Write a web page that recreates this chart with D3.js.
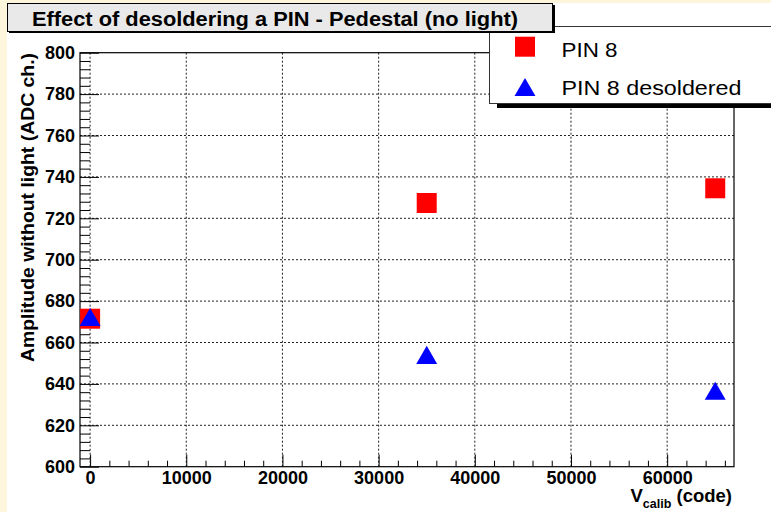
<!DOCTYPE html>
<html>
<head>
<meta charset="utf-8">
<script src="https://cdn.jsdelivr.net/npm/d3@7"></script>
<style>
  body { margin: 0; background: #fdf6dc; }
  svg { display: block; font-family: "Liberation Sans", Arial, sans-serif; }
</style>
</head>
<body>
<svg id="chart" width="771" height="512"></svg>
<script>
// --- Data ---
const xCodes = [0, 35000, 65000];
const pin8 = [671.5, 727.4, 734.5];
const pin8Desoldered = [671.8, 653.5, 636.2];
const xTicks = [0, 10000, 20000, 30000, 40000, 50000, 60000];
const yTicks = [600, 620, 640, 660, 680, 700, 720, 740, 760, 780, 800];
const legendLabels = ["PIN 8", "PIN 8 desoldered"];

const svg = d3.select("#chart");
const width = +svg.attr("width");
const height = +svg.attr("height");
const plot = { left: 80, right: 734, top: 52.7, bottom: 466.7 };

// white pad over the cream canvas
svg.append("rect")
  .attr("x", 7).attr("y", 3)
  .attr("width", width - 7).attr("height", height - 3)
  .attr("fill", "#fff");

// --- Scales ---
const x = d3.scaleLinear().domain([-1050, 66950]).range([plot.left, plot.right]);
const y = d3.scaleLinear().domain([600, 800]).range([plot.bottom, plot.top]);

const xMinor = d3.range(0, 66001, 2000).filter(v => v % 10000 !== 0);
const yMinor = d3.range(600, 801, 4).filter(v => v % 20 !== 0);

// --- Grid ---
svg.append("g").selectAll("line")
  .data(yTicks.slice(1, -1))
  .join("line")
  .attr("x1", plot.left).attr("x2", plot.right)
  .attr("y1", d => y(d)).attr("y2", d => y(d))
  .attr("stroke", "#222").attr("stroke-width", 1)
  .attr("stroke-dasharray", "2 2");

svg.append("g").selectAll("line")
  .data(xTicks)
  .join("line")
  .attr("x1", d => x(d)).attr("x2", d => x(d))
  .attr("y1", plot.top).attr("y2", plot.bottom)
  .attr("stroke", "#222").attr("stroke-width", 1)
  .attr("stroke-dasharray", "2 2");

// --- Axes ---
const yAxis = svg.append("g")
  .attr("transform", `translate(${plot.left},0)`)
  .call(d3.axisLeft(y).tickValues(yTicks).tickSize(-19).tickPadding(5));
yAxis.select(".domain").remove();
yAxis.selectAll("text")
  .attr("font-size", 18).attr("font-weight", "bold")
  .attr("font-family", "Liberation Sans, Arial, sans-serif").attr("fill", "#000");

const yAxisMinor = svg.append("g")
  .attr("transform", `translate(${plot.left},0)`)
  .call(d3.axisLeft(y).tickValues(yMinor).tickSize(-10).tickFormat(""));
yAxisMinor.select(".domain").remove();

const xAxis = svg.append("g")
  .attr("transform", `translate(0,${plot.bottom})`)
  .call(d3.axisBottom(x).tickValues(xTicks).tickSize(-12).tickPadding(5).tickFormat(d3.format("d")));
xAxis.select(".domain").remove();
xAxis.selectAll("text")
  .attr("font-size", 18).attr("font-weight", "bold")
  .attr("font-family", "Liberation Sans, Arial, sans-serif").attr("fill", "#000");

const xAxisMinor = svg.append("g")
  .attr("transform", `translate(0,${plot.bottom})`)
  .call(d3.axisBottom(x).tickValues(xMinor).tickSize(-6).tickFormat(""));
xAxisMinor.select(".domain").remove();

svg.selectAll(".tick line").attr("stroke", "#000");

// frame
svg.append("rect")
  .attr("x", plot.left).attr("y", plot.top)
  .attr("width", plot.right - plot.left).attr("height", plot.bottom - plot.top)
  .attr("fill", "none").attr("stroke", "#000").attr("stroke-width", 1.2);

// --- Markers ---
const sq = d3.symbol().type(d3.symbolSquare).size(400);
const tri = d3.symbol().type(d3.symbolTriangle).size(190);

svg.append("g").selectAll("path")
  .data(xCodes.map((v, i) => [v, pin8[i]]))
  .join("path")
  .attr("transform", d => `translate(${x(d[0])},${y(d[1])})`)
  .attr("d", sq)
  .attr("fill", "#ff0000");

svg.append("g").selectAll("path")
  .data(xCodes.map((v, i) => [v, pin8Desoldered[i]]))
  .join("path")
  .attr("transform", d => `translate(${x(d[0])},${y(d[1]) + 2})`)
  .attr("d", tri)
  .attr("fill", "#0000ff");

// --- Axis titles ---
const xTitle = svg.append("text")
  .attr("x", 732).attr("y", 502)
  .attr("text-anchor", "end")
  .attr("font-size", 18.5).attr("font-weight", "bold");
xTitle.append("tspan").text("V");
xTitle.append("tspan").attr("font-size", 12.5).attr("dy", 6).text("calib");
xTitle.append("tspan").attr("dy", -6).text(" (code)");

svg.append("text")
  .attr("transform", "translate(34,53) rotate(-90)")
  .attr("text-anchor", "end")
  .attr("font-size", 17.5).attr("font-weight", "bold")
  .attr("textLength", 309).attr("lengthAdjust", "spacingAndGlyphs")
  .text("Amplitude without light (ADC ch.)");

// --- Legend box ---
svg.append("rect")
  .attr("x", 497).attr("y", 103).attr("width", 300).attr("height", 5)
  .attr("fill", "#000");
svg.append("rect")
  .attr("x", 489.5).attr("y", 26.5).attr("width", 300).attr("height", 77)
  .attr("fill", "#fff").attr("stroke", "#333").attr("stroke-width", 1);

const legendWidths = [56, 180];
const legend = svg.append("g");
legend.append("path")
  .attr("transform", "translate(525,46.7)")
  .attr("d", sq).attr("fill", "#ff0000");
legend.append("path")
  .attr("transform", "translate(525,90)")
  .attr("d", tri).attr("fill", "#0000ff");
legend.selectAll("text")
  .data(legendLabels)
  .join("text")
  .attr("x", 561.5)
  .attr("y", (d, i) => 56.5 + i * 38)
  .attr("font-size", 20)
  .attr("textLength", (d, i) => legendWidths[i])
  .attr("lengthAdjust", "spacingAndGlyphs")
  .text(d => d);

// --- Title box ---
svg.append("rect")
  .attr("x", 9).attr("y", 5).attr("width", 546).attr("height", 28)
  .attr("fill", "#000");
svg.append("rect")
  .attr("x", 7.5).attr("y", 3.5).attr("width", 545).attr("height", 28)
  .attr("fill", "#e9e9e9").attr("stroke", "#000").attr("stroke-width", 1);
svg.append("text")
  .attr("x", 32).attr("y", 26)
  .attr("font-size", 20).attr("font-weight", "bold")
  .attr("textLength", 486).attr("lengthAdjust", "spacingAndGlyphs")
  .text("Effect of desoldering a PIN - Pedestal (no light)");
</script>
</body>
</html>
